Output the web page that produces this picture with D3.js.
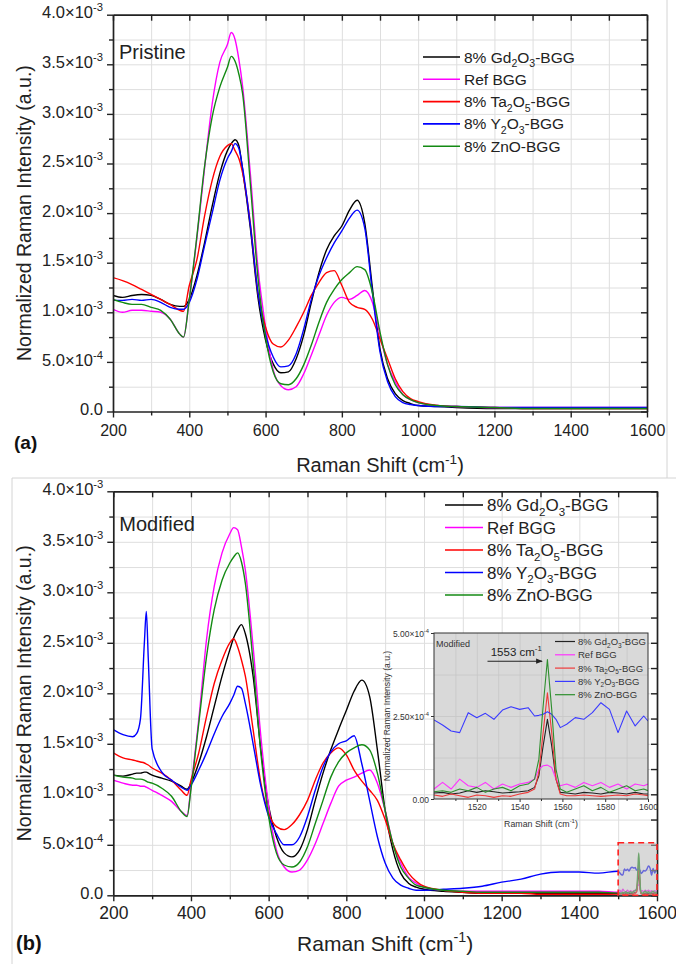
<!DOCTYPE html>
<html><head><meta charset="utf-8">
<script src="https://cdn.jsdelivr.net/npm/d3@7"></script>
<style>
body{margin:0;background:#fff;}
svg{display:block;font-family:"Liberation Sans",Arial,sans-serif;}
</style></head><body>
<svg id="c" width="676" height="964"></svg>
<script>
// ---------------- DATA ----------------
const seriesNames = ["8% Gd2O3-BGG","Ref BGG","8% Ta2O5-BGG","8% Y2O3-BGG","8% ZnO-BGG"];
const legendParts = [
  [["8% Gd",""],["2","sub"],["O",""],["3","sub"],["-BGG",""]],
  [["Ref BGG",""]],
  [["8% Ta",""],["2","sub"],["O",""],["5","sub"],["-BGG",""]],
  [["8% Y",""],["2","sub"],["O",""],["3","sub"],["-BGG",""]],
  [["8% ZnO-BGG",""]]
];
const seriesColors = ["#000000","#ff00ff","#ff0000","#0000ff","#138a13"];
const insetColors  = ["#222222","#ff33ff","#ee3a3a","#3a3aff","#2e8f2e"];

// Panel (a) Pristine, intensities in units of 1e-3
const xA = [200,225,250,275,300,325,350,375,385,400,420,440,460,480,500,510,520,530,540,560,580,600,620,640,660,680,700,720,740,760,780,800,820,840,860,880,900,920,940,960,980,1000,1050,1100,1200,1300,1400,1500,1600];
const aGd  = [1.17,1.15,1.17,1.18,1.17,1.13,1.08,1.06,1.06,1.13,1.37,1.70,2.07,2.40,2.63,2.70,2.74,2.68,2.43,1.85,1.15,0.72,0.48,0.39,0.40,0.53,0.77,1.10,1.40,1.63,1.77,1.87,2.03,2.13,1.90,1.25,0.63,0.33,0.18,0.11,0.08,0.06,0.05,0.04,0.03,0.03,0.03,0.03,0.03];
const aRef = [1.03,1.00,1.02,1.02,1.01,1.00,0.93,0.78,0.75,1.13,1.75,2.45,3.10,3.52,3.70,3.82,3.75,3.55,3.27,2.40,1.45,0.85,0.42,0.26,0.22,0.25,0.38,0.57,0.77,0.97,1.10,1.15,1.13,1.17,1.22,1.10,0.77,0.47,0.30,0.17,0.12,0.09,0.06,0.05,0.04,0.04,0.04,0.04,0.04];
const aTa  = [1.35,1.32,1.28,1.23,1.18,1.13,1.08,1.02,1.01,1.27,1.53,1.97,2.33,2.57,2.68,2.70,2.63,2.55,2.40,1.90,1.20,0.85,0.68,0.65,0.72,0.85,1.00,1.17,1.30,1.40,1.42,1.27,1.10,1.05,1.03,0.93,0.73,0.53,0.33,0.20,0.13,0.10,0.06,0.05,0.04,0.03,0.03,0.03,0.03];
const aY   = [1.12,1.12,1.13,1.12,1.13,1.10,1.05,1.03,1.03,1.10,1.33,1.67,2.00,2.33,2.55,2.62,2.70,2.65,2.45,1.88,1.20,0.78,0.55,0.45,0.46,0.58,0.83,1.13,1.37,1.55,1.70,1.82,1.95,2.03,1.85,1.20,0.60,0.30,0.15,0.09,0.07,0.06,0.05,0.05,0.04,0.04,0.04,0.04,0.04];
const aZn  = [1.13,1.10,1.08,1.08,1.05,1.02,0.93,0.78,0.75,1.13,1.77,2.47,2.97,3.27,3.47,3.58,3.53,3.40,3.20,2.30,1.35,0.75,0.40,0.28,0.27,0.33,0.47,0.67,0.90,1.10,1.23,1.33,1.40,1.46,1.43,1.20,0.80,0.47,0.27,0.17,0.12,0.09,0.06,0.05,0.04,0.03,0.03,0.03,0.03];

// Panel (b) Modified, 200-1450 cm-1, units of 1e-3
const xB = [200,225,250,260,270,280,285,290,300,325,350,375,390,400,420,440,460,480,500,510,520,530,540,560,580,600,620,640,660,680,700,720,740,760,780,800,820,840,860,880,900,920,940,960,980,1000,1050,1100,1150,1200,1250,1300,1350,1400,1450];
const bGd  = [1.19,1.18,1.20,1.21,1.21,1.22,1.22,1.21,1.19,1.16,1.13,1.08,1.05,1.11,1.31,1.57,1.87,2.17,2.43,2.55,2.63,2.68,2.59,2.17,1.44,0.88,0.58,0.42,0.38,0.45,0.65,0.94,1.21,1.44,1.64,1.83,2.02,2.13,1.97,1.44,0.84,0.45,0.22,0.12,0.08,0.06,0.04,0.03,0.02,0.02,0.02,0.02,0.02,0.02,0.02];
const bRef = [1.14,1.11,1.09,1.09,1.08,1.08,1.07,1.06,1.04,0.99,0.93,0.83,0.79,1.08,1.74,2.53,3.06,3.39,3.58,3.64,3.62,3.45,3.22,2.46,1.57,0.88,0.45,0.28,0.23,0.25,0.35,0.51,0.71,0.91,1.08,1.14,1.17,1.21,1.24,1.11,0.84,0.51,0.32,0.18,0.12,0.08,0.05,0.04,0.04,0.04,0.04,0.04,0.04,0.04,0.04];
const bTa  = [1.41,1.36,1.34,1.33,1.32,1.31,1.30,1.29,1.26,1.21,1.14,1.04,0.99,1.14,1.41,1.77,2.10,2.33,2.50,2.54,2.46,2.33,2.17,1.64,1.11,0.81,0.68,0.65,0.70,0.80,0.94,1.14,1.31,1.41,1.46,1.39,1.24,1.13,1.04,0.94,0.75,0.51,0.35,0.22,0.14,0.09,0.05,0.03,0.02,0.02,0.02,0.01,0.01,0.01,0.01];
const bY   = [1.64,1.59,1.57,1.60,1.75,2.50,2.81,2.35,1.45,1.22,1.14,1.07,1.04,1.09,1.24,1.41,1.60,1.77,1.90,1.98,2.07,2.05,1.90,1.50,1.08,0.78,0.61,0.50,0.50,0.58,0.78,1.04,1.27,1.42,1.50,1.53,1.58,1.30,0.94,0.58,0.32,0.17,0.10,0.07,0.05,0.05,0.06,0.07,0.09,0.13,0.16,0.21,0.23,0.23,0.22];
const bZn  = [1.19,1.17,1.16,1.15,1.15,1.14,1.13,1.12,1.11,1.06,0.98,0.83,0.78,1.05,1.70,2.36,2.83,3.12,3.29,3.35,3.39,3.30,3.09,2.30,1.41,0.78,0.42,0.30,0.28,0.33,0.48,0.71,0.94,1.17,1.32,1.41,1.46,1.49,1.44,1.21,0.84,0.51,0.28,0.17,0.10,0.08,0.05,0.04,0.03,0.03,0.03,0.03,0.03,0.03,0.03];

// Inset / 1500-1600 cm-1 region of panel (b), units of 1e-4
const xIn  = [1500,1504,1508,1512,1516,1520,1524,1528,1532,1536,1540,1544,1547,1549,1551,1553,1555,1557,1559,1562,1566,1570,1574,1578,1582,1586,1590,1594,1598,1600];
const inGd  = [0.18,0.20,0.15,0.18,0.25,0.20,0.25,0.22,0.18,0.20,0.22,0.25,0.35,0.70,1.60,2.40,1.60,0.60,0.20,0.18,0.15,0.20,0.18,0.15,0.20,0.18,0.15,0.20,0.15,0.15];
const inRef = [0.30,0.50,0.30,0.60,0.40,0.35,0.50,0.30,0.45,0.35,0.45,0.50,0.60,0.90,1.00,1.02,0.95,0.60,0.40,0.45,0.35,0.50,0.40,0.50,0.35,0.45,0.30,0.45,0.40,0.45];
const inTa  = [0.12,0.08,0.15,0.10,0.05,0.12,0.10,0.05,0.10,0.08,0.15,0.20,0.30,0.80,2.00,3.20,2.00,0.60,0.15,0.10,0.10,0.12,0.10,0.08,0.10,0.12,0.10,0.15,0.12,0.10];
const inY   = [2.38,2.23,2.05,2.00,2.60,2.45,2.58,2.40,2.68,2.78,2.70,2.75,2.50,2.52,2.55,2.63,2.55,2.40,2.15,2.25,2.45,2.40,2.60,2.90,2.70,2.00,2.65,2.20,2.50,2.35];
const inZn  = [0.22,0.25,0.20,0.30,0.25,0.35,0.20,0.30,0.35,0.25,0.40,0.45,0.60,1.20,2.80,4.20,2.70,0.90,0.30,0.20,0.30,0.40,0.25,0.35,0.20,0.30,0.40,0.25,0.30,0.25];

// Ticks
const xMajor = [200,400,600,800,1000,1200,1400,1600];
const xMinor = [300,500,700,900,1100,1300,1500];
const xAll   = d3.range(200,1601,100);
const yMajor = [0,0.5,1.0,1.5,2.0,2.5,3.0,3.5,4.0];
const yMinor = [0.25,0.75,1.25,1.75,2.25,2.75,3.25,3.75];
const yAll   = d3.range(0,4.001,0.25);
const gridX  = d3.range(300,1501,100);
const gridY  = d3.range(0.25,3.76,0.25);
const insetXMajor = [1520,1540,1560,1580,1600];
const insetXMinor = [1510,1530,1550,1570,1590];
const insetYMajor = [0,2.5,5.0];
const insetGridX = d3.range(1510,1591,10);
const insetGridY = [1.25,2.5,3.75];

// ---------------- DRAW ----------------
const svg = d3.select('#c');
const defs = svg.append('defs');
const INK = '#222';

function rich(t, parts, size){
  let shift = 0;
  parts.forEach(([s,k])=>{
    const target = k==='sub' ? 0.28 : (k==='sup' ? -0.42 : 0);
    const dy = (target - shift)*size;
    const ts = t.append('tspan').text(s).attr('font-size', k ? size*0.68 : size);
    if (Math.abs(dy) > 1e-6) ts.attr('dy', dy);
    shift = target;
  });
}
function yLabel(d){
  if (d === 0) return [["0.0",""]];
  if (d >= 1) return [[d.toFixed(1)+"×10",""],["-3","sup"]];
  return [[(d*10).toFixed(1)+"×10",""],["-4","sup"]];
}
function styleAxis(s, keepDomain){
  if (keepDomain) s.select('.domain').attr('stroke',INK).attr('stroke-width',1.7);
  else s.select('.domain').remove();
  s.selectAll('.tick line').attr('stroke',INK).attr('stroke-width',1.4);
}

function panel(cfg){
  const x = d3.scaleLinear().domain([200,1600]).range([cfg.x0,cfg.x1]);
  const y = d3.scaleLinear().domain([0,4.0]).range([cfg.y0,cfg.y1]);
  const w = cfg.x1-cfg.x0, h = cfg.y0-cfg.y1;
  const g = svg.append('g');
  // grid
  g.append('g').attr('transform',`translate(0,${cfg.y0})`)
    .call(d3.axisBottom(x).tickValues(gridX).tickSize(-h).tickFormat(''))
    .call(s=>{s.select('.domain').remove(); s.selectAll('line').attr('stroke','#dedede').attr('stroke-width',1);});
  g.append('g').attr('transform',`translate(${cfg.x0},0)`)
    .call(d3.axisLeft(y).tickValues(gridY).tickSize(-w).tickFormat(''))
    .call(s=>{s.select('.domain').remove(); s.selectAll('line').attr('stroke','#dedede').attr('stroke-width',1);});
  // curves
  defs.append('clipPath').attr('id','clip'+cfg.name).append('rect')
    .attr('x',cfg.x0).attr('y',cfg.y1).attr('width',w).attr('height',h);
  const line = d3.line().x(d=>x(d[0])).y(d=>y(d[1])).curve(d3.curveMonotoneX);
  const lg = g.append('g').attr('clip-path',`url(#clip${cfg.name})`);
  cfg.series.forEach((vals,i)=>{
    lg.append('path').datum(cfg.xs.map((xv,j)=>[xv,vals[j]]))
      .attr('d',line).attr('fill','none').attr('stroke',seriesColors[i])
      .attr('stroke-width',1.4).attr('stroke-linejoin','round');
  });
  const ax = g.append('g');
  // bottom
  ax.append('g').attr('transform',`translate(0,${cfg.y0})`)
    .call(d3.axisBottom(x).tickValues(xMinor).tickSize(4).tickFormat(''))
    .call(s=>styleAxis(s,false));
  ax.append('g').attr('transform',`translate(0,${cfg.y0})`)
    .call(d3.axisBottom(x).tickValues(xMajor).tickSize(6).tickSizeOuter(0).tickPadding(cfg.xPad).tickFormat(d3.format('d')))
    .call(s=>{styleAxis(s,true); s.selectAll('text').attr('font-size',cfg.xFont).attr('fill',INK).attr('font-family','"Liberation Sans",Arial,sans-serif');});
  // top (inward)
  ax.append('g').attr('transform',`translate(0,${cfg.y1})`)
    .call(d3.axisTop(x).tickValues(xAll).tickSize(-6).tickSizeOuter(0).tickFormat(''))
    .call(s=>styleAxis(s,true));
  // right (inward)
  ax.append('g').attr('transform',`translate(${cfg.x1},0)`)
    .call(d3.axisRight(y).tickValues(yAll).tickSize(-6).tickSizeOuter(0).tickFormat(''))
    .call(s=>styleAxis(s,true));
  // left
  ax.append('g').attr('transform',`translate(${cfg.x0},0)`)
    .call(d3.axisLeft(y).tickValues(yMinor).tickSize(4).tickFormat(''))
    .call(s=>styleAxis(s,false));
  ax.append('g').attr('transform',`translate(${cfg.x0},0)`)
    .call(d3.axisLeft(y).tickValues(yMajor).tickSize(6).tickSizeOuter(0).tickPadding(4).tickFormat(''))
    .call(s=>{
      styleAxis(s,true);
      s.selectAll('.tick text').each(function(d){
        const t = d3.select(this).attr('fill',INK).attr('font-family','"Liberation Sans",Arial,sans-serif');
        t.text(null); rich(t, yLabel(d), cfg.yFont);
      });
    });
  // legend
  const leg = g.append('g');
  seriesNames.forEach((n,i)=>{
    const yy = cfg.legY0 + i*cfg.legDy;
    leg.append('line').attr('x1',cfg.legX0).attr('x2',cfg.legX1).attr('y1',yy).attr('y2',yy)
      .attr('stroke',seriesColors[i]).attr('stroke-width',1.6);
    const t = leg.append('text').attr('x',cfg.legX1+4).attr('y',yy+cfg.legFont*0.36).attr('fill',INK);
    rich(t, legendParts[i], cfg.legFont);
  });
  // texts
  g.append('text').attr('x',cfg.x0+6).attr('y',cfg.tagY).attr('font-size',20).attr('fill',INK).text(cfg.tag);
  g.append('text').attr('x',cfg.lblX).attr('y',cfg.lblY).attr('font-size',cfg.lblFont).attr('font-weight','bold').attr('fill','#111').text(cfg.lbl);
  const xt = g.append('text').attr('x',(cfg.x0+cfg.x1)/2).attr('y',cfg.xTitleY).attr('text-anchor','middle').attr('fill',INK);
  rich(xt, [["Raman Shift (cm",""],["-1","sup"],[")",""]], cfg.xTitleFont);
  g.append('text').attr('transform',`translate(31,${(cfg.y0+cfg.y1)/2}) rotate(-90)`)
    .attr('text-anchor','middle').attr('font-size',cfg.yTitleFont).attr('fill',INK)
    .text('Normalized Raman Intensity (a.u.)');
  return {g,x,y};
}

// borders of the two sub-figures
svg.append('line').attr('x1',667).attr('x2',667).attr('y1',0).attr('y2',478).attr('stroke','#d4d4d4');
svg.append('line').attr('x1',12).attr('x2',676).attr('y1',478).attr('y2',478).attr('stroke','#d4d4d4');
svg.append('line').attr('x1',12).attr('x2',12).attr('y1',478).attr('y2',964).attr('stroke','#d4d4d4');

panel({name:'a', x0:113, x1:647, y0:411.5, y1:14.7, xs:xA,
  series:[aGd,aRef,aTa,aY,aZn], xFont:16, xPad:7, yFont:16.5,
  legX0:423, legX1:460, legY0:57, legDy:22.3, legFont:15.5,
  tag:'Pristine', tagY:59, lbl:'(a)', lblX:14, lblY:449, lblFont:19,
  xTitleY:472, xTitleFont:20, yTitleFont:19.5});

const xBfull = xB.concat(xIn);
const sc = v=>v/10;
const pb = panel({name:'b', x0:113.3, x1:657, y0:895.3, y1:491.3, xs:xBfull,
  series:[bGd.concat(inGd.map(sc)), bRef.concat(inRef.map(sc)), bTa.concat(inTa.map(sc)), bY.concat(inY.map(sc)), bZn.concat(inZn.map(sc))],
  xFont:17.5, xPad:5, yFont:16.5,
  legX0:445, legX1:483, legY0:505, legDy:22.5, legFont:17,
  tag:'Modified', tagY:531, lbl:'(b)', lblX:16, lblY:950, lblFont:20,
  xTitleY:951, xTitleFont:21, yTitleFont:19.5});

// highlighted region 1500-1600 in panel (b)
pb.g.append('rect')
  .attr('x',pb.x(1500)).attr('y',pb.y(0.52))
  .attr('width',pb.x(1600)-pb.x(1500)).attr('height',pb.y(0)-pb.y(0.52))
  .attr('fill','rgba(185,185,185,0.55)').attr('stroke','#ff2020').attr('stroke-width',1.6)
  .attr('stroke-dasharray','6,4');

// ---------------- INSET ----------------
const xi = d3.scaleLinear().domain([1500,1600]).range([434,648]);
const yi = d3.scaleLinear().domain([0,5.0]).range([799,633]);
const ig = svg.append('g').attr('font-family','"Liberation Sans",Arial,sans-serif');
ig.append('rect').attr('x',xi(1500)).attr('y',yi(5)).attr('width',xi(1600)-xi(1500)).attr('height',yi(0)-yi(5)).attr('fill','#d9d9d9');
ig.append('g').attr('transform',`translate(0,${yi(0)})`)
  .call(d3.axisBottom(xi).tickValues(insetGridX).tickSize(-(yi(0)-yi(5))).tickFormat(''))
  .call(s=>{s.select('.domain').remove(); s.selectAll('line').attr('stroke','#c6c6c6').attr('stroke-width',0.8);});
ig.append('g').attr('transform',`translate(${xi(1500)},0)`)
  .call(d3.axisLeft(yi).tickValues(insetGridY).tickSize(-(xi(1600)-xi(1500))).tickFormat(''))
  .call(s=>{s.select('.domain').remove(); s.selectAll('line').attr('stroke','#c6c6c6').attr('stroke-width',0.8);});
defs.append('clipPath').attr('id','clipIn').append('rect').attr('x',xi(1500)).attr('y',yi(5)).attr('width',xi(1600)-xi(1500)).attr('height',yi(0)-yi(5));
const iline = d3.line().x(d=>xi(d[0])).y(d=>yi(d[1]));
const insetSeries = [inGd,inRef,inTa,inY,inZn];
const icl = ig.append('g').attr('clip-path','url(#clipIn)');
insetSeries.forEach((vals,i)=>{
  icl.append('path').datum(xIn.map((xv,j)=>[xv,vals[j]])).attr('d',iline)
    .attr('fill','none').attr('stroke',insetColors[i]).attr('stroke-width',1.1).attr('stroke-linejoin','round');
});
// frame
ig.append('rect').attr('x',xi(1500)).attr('y',yi(5)).attr('width',xi(1600)-xi(1500)).attr('height',yi(0)-yi(5))
  .attr('fill','none').attr('stroke','#333').attr('stroke-width',1);
ig.append('g').attr('transform',`translate(0,${yi(0)})`)
  .call(d3.axisBottom(xi).tickValues(insetXMinor).tickSize(2).tickFormat(''))
  .call(s=>{s.select('.domain').remove(); s.selectAll('line').attr('stroke','#333');});
ig.append('g').attr('transform',`translate(0,${yi(0)})`)
  .call(d3.axisBottom(xi).tickValues(insetXMajor).tickSize(3).tickSizeOuter(0).tickPadding(2).tickFormat(d3.format('d')))
  .call(s=>{s.select('.domain').remove(); s.selectAll('line').attr('stroke','#333'); s.selectAll('text').attr('font-size',8.5).attr('fill','#333').attr('font-family','"Liberation Sans",Arial,sans-serif');});
ig.append('g').attr('transform',`translate(${xi(1500)},0)`)
  .call(d3.axisLeft(yi).tickValues(insetYMajor).tickSize(3).tickSizeOuter(0).tickPadding(2).tickFormat(''))
  .call(s=>{
    s.select('.domain').remove(); s.selectAll('line').attr('stroke','#333');
    s.selectAll('.tick text').each(function(d){
      const t=d3.select(this).attr('fill','#333').attr('font-family','"Liberation Sans",Arial,sans-serif'); t.text(null);
      rich(t, d===0 ? [["0.00",""]] : [[d.toFixed(2)+"×10",""],["-4","sup"]], 8.5);
    });
  });
const ixt = ig.append('text').attr('x',(xi(1500)+xi(1600))/2).attr('y',827).attr('text-anchor','middle').attr('fill','#333');
rich(ixt, [["Raman Shift (cm",""],["-1","sup"],[")",""]], 8.8);
ig.append('text').attr('transform',`translate(390,${(yi(0)+yi(5))/2}) rotate(-90)`).attr('text-anchor','middle')
  .attr('font-size',8.6).attr('fill','#333').text('Normalized Raman Intensity (a.u.)');
ig.append('text').attr('x',xi(1500)+2).attr('y',yi(5)+14).attr('font-size',9).attr('fill','#333').text('Modified');
// inset legend
seriesNames.forEach((n,i)=>{
  const yy = 641.5 + i*13.3;
  ig.append('line').attr('x1',555).attr('x2',575).attr('y1',yy).attr('y2',yy).attr('stroke',insetColors[i]).attr('stroke-width',1.2);
  const t = ig.append('text').attr('x',578).attr('y',yy+3.4).attr('fill','#333');
  rich(t, legendParts[i], 9.5);
});
// peak annotation
defs.append('marker').attr('id','arr').attr('viewBox','0 0 10 10').attr('refX',9).attr('refY',5)
  .attr('markerWidth',6).attr('markerHeight',6).attr('orient','auto')
  .append('path').attr('d','M0,1 L10,5 L0,9 z').attr('fill','#222');
ig.append('line').attr('x1',xi(1525)).attr('x2',xi(1550.5)).attr('y1',yi(4.15)).attr('y2',yi(4.15))
  .attr('stroke','#222').attr('stroke-width',1.1).attr('marker-end','url(#arr)');
const at = ig.append('text').attr('x',xi(1526.5)).attr('y',yi(4.3)).attr('fill','#222');
rich(at, [["1553 cm",""],["-1","sup"]], 11.5);
</script>
</body></html>
